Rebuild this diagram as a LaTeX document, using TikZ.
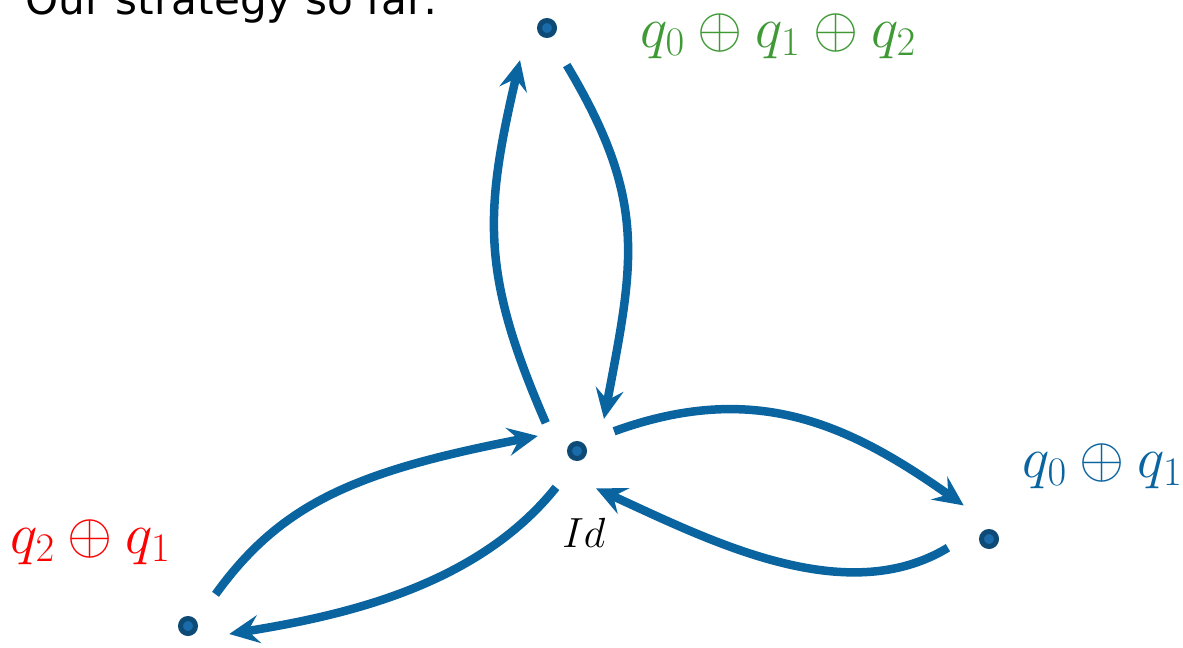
\RequirePackage{fix-cm}
\documentclass[tikz,border=0pt]{standalone}
\usepackage{fontspec}
\newfontfamily\titlefont{DejaVu Sans}
\usepackage{xcolor}
\usepackage{tikz}
\usetikzlibrary{arrows.meta}

\definecolor{flowblue}{HTML}{0A64A0}
\definecolor{dotdark}{HTML}{0D4A75}
\definecolor{dotfill}{HTML}{1A6BAA}
\definecolor{labgreen}{HTML}{3F9A36}
\definecolor{labred}{HTML}{FF0000}

\begin{document}
\begin{tikzpicture}[x=0.02cm, y=0.02cm,
    dot/.style={circle, draw=dotdark, fill=dotfill, line width=0.1cm, minimum size=0.3cm, inner sep=0pt, outer sep=0.69cm},
    flow/.style={draw=flowblue, line width=0.17cm, -{Stealth[length=0.6cm, width=0.56cm, inset=0.22cm]}},
    lab/.style={inner sep=0pt, anchor=base west, font=\fontsize{33}{40}\selectfont}]
    \useasboundingbox (0,0) rectangle (1183,647);

    \node (title) [anchor=base west, inner sep=0pt, font=\titlefont\fontsize{24}{29}\selectfont] at (25,632) {Our strategy so far:};

    \node (topdot) [dot] at (547,619) {};
    \node (iddot) [dot] at (577,196) {};
    \node (rdot) [dot] at (989,108) {};
    \node (ldot) [dot] at (188,21) {};

    \node (toplabel) [lab, text=labgreen] at (640,600) {$q_0 \oplus q_1 \oplus q_2$};
    \node (rlabel) [lab, text=flowblue] at (1022,170) {$q_0 \oplus q_1$};
    \node (llabel) [lab, text=labred] at (10,94) {$q_2 \oplus q_1$};
    \node (idlabel) [lab, font=\fontsize{24}{29}\selectfont] at (562,100) {$Id$};

    \draw[flow] (iddot.138) .. controls (481,373) and (484,433) .. (topdot.230);
    \draw[flow] (topdot.298) .. controls (648,446) and (634,386) .. (iddot.50);
    \draw[flow] (iddot.28) .. controls (753,266) and (846,225) .. (rdot.127);
    \draw[flow] (rdot.192) .. controls (845,37) and (709,107) .. (iddot.297);
    \draw[flow] (ldot.49) .. controls (282,145) and (358,176) .. (iddot.159);
    \draw[flow] (iddot.240) .. controls (478,62) and (347,32) .. (ldot.349);
\end{tikzpicture}
\end{document}
